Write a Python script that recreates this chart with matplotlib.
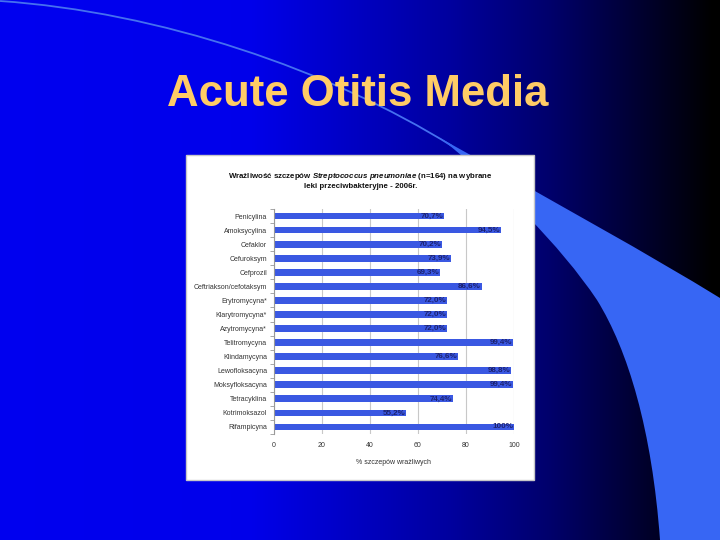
import matplotlib
matplotlib.use("Agg")
import matplotlib.pyplot as plt
from matplotlib.path import Path
from matplotlib.patches import PathPatch, Rectangle
import numpy as np

plt.rcParams['font.family'] = ['Liberation Sans', 'DejaVu Sans']
plt.rcParams['mathtext.fontset'] = 'custom'
plt.rcParams['mathtext.it'] = 'Liberation Sans:italic:bold'
plt.rcParams['mathtext.rm'] = 'Liberation Sans:bold'

# dane
leki = ['Penicylina', 'Amoksycylina', 'Cefaklor', 'Cefuroksym', 'Cefprozil',
        'Ceftriakson/cefotaksym', 'Erytromycyna*', 'Klarytromycyna*',
        'Azytromycyna*', 'Telitromycyna', 'Klindamycyna', 'Lewofloksacyna',
        'Moksyfloksacyna', 'Tetracyklina', 'Kotrimoksazol', 'Rifampicyna']
wrazliwe = [70.7, 94.5, 70.2, 73.9, 69.3, 86.6, 72.0, 72.0,
            72.0, 99.4, 76.6, 98.8, 99.4, 74.4, 55.2, 100.0]
x_ticks = [0, 20, 40, 60, 80, 100]

tytul_slajdu = 'Acute Otitis Media'
tytul_1 = r'Wrażliwość szczepów $Streptococcus\ pneumoniae$ (n=164) na wybrane'
tytul_2 = 'leki przeciwbakteryjne - 2006r.'
opis_x = '% szczepów wrażliwych'

fig = plt.figure(figsize=(7.2, 5.4), dpi=100)

# tlo slajdu
tlo = fig.add_axes([0, 0, 1, 1])
tlo.set_xlim(0, 720)
tlo.set_ylim(540, 0)
tlo.axis('off')

xs = np.arange(720)
b = np.interp(xs, [0, 250, 450, 550, 650, 712], [0.94, 0.92, 0.62, 0.42, 0.16, 0.0])
grad = np.zeros((2, 720, 3))
grad[:, :, 2] = b
tlo.imshow(grad, extent=(0, 720, 540, 0), aspect='auto', zorder=0)

# luk
luk = Path([(0, 1), (160, 12), (330, 70), (452, 146)],
           [Path.MOVETO, Path.CURVE4, Path.CURVE4, Path.CURVE4])
tlo.add_patch(PathPatch(luk, fc='none', ec='#4570f0', lw=1.3, zorder=1))

ostrze = Path([(440, 138), (560, 205), (650, 255), (720, 298),
               (720, 540), (660, 540),
               (652, 430), (628, 350), (597, 300),
               (560, 245), (500, 185), (440, 138)],
              [Path.MOVETO, Path.CURVE4, Path.CURVE4, Path.CURVE4,
               Path.LINETO, Path.LINETO,
               Path.CURVE4, Path.CURVE4, Path.CURVE4,
               Path.CURVE4, Path.CURVE4, Path.CURVE4])
tlo.add_patch(PathPatch(ostrze, fc='#3766f4', ec='none', zorder=1))

tlo.text(358, 94, tytul_slajdu, color='#ffcc66', fontsize=31.5, fontweight='bold',
         ha='center', va='center', zorder=2)

tlo.add_patch(Rectangle((186, 155), 348, 325, fc='white', ec='#c8c8c8', lw=1, zorder=3))

fig.text(360 / 720, 1 - 176 / 540, tytul_1, ha='center', va='center',
         fontsize=5.7, fontweight='bold', color='#111111', zorder=4)
fig.text(361 / 720, 1 - 187 / 540, tytul_2, ha='center', va='center',
         fontsize=5.7, fontweight='bold', color='#111111', zorder=4)

# wykres
ax = fig.add_axes([274 / 720, 1 - 434 / 540, 240 / 720, 225 / 540])
ax.set_facecolor('none')
y = np.arange(len(leki))
ax.barh(y, wrazliwe, height=0.48, color='#3a58e2', zorder=2)
for yi, v in zip(y, wrazliwe):
    txt = ('%.1f' % v).replace('.', ',') + '%' if v < 100 else '100%'
    ax.text(v - 0.3, yi, txt, ha='right', va='center', fontsize=5.8,
            fontweight='bold', color='#1c2270', zorder=3)

ax.set_ylim(len(leki) - 0.5, -0.5)
ax.set_xlim(0, 100)
ax.set_yticks(y)
ax.set_yticklabels(leki, fontsize=5, color='#333333')
ax.tick_params(axis='y', length=0, pad=5)
ax.set_yticks(np.arange(len(leki) + 1) - 0.5, minor=True)
ax.tick_params(axis='y', which='minor', length=3, color='#999999')
ax.set_xticks(x_ticks)
ax.set_xticklabels([str(t) for t in x_ticks], fontsize=5, color='#333333')
ax.tick_params(axis='x', length=0, pad=6)
ax.grid(axis='x', color='#c8c8c8', lw=0.8, zorder=0)
for s in ['top', 'right', 'bottom']:
    ax.spines[s].set_visible(False)
ax.spines['left'].set_color('#999999')
ax.spines['left'].set_linewidth(0.8)
ax.set_xlabel(opis_x, fontsize=5, color='#333333', labelpad=7)

fig.savefig('out.png', dpi=100)
